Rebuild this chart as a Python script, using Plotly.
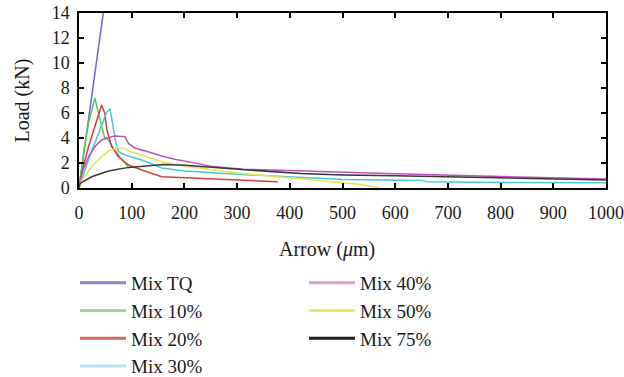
import plotly.graph_objects as go

names = ["Mix TQ", "Mix 10%", "Mix 20%", "Mix 30%", "Mix 40%", "Mix 50%", "Mix 75%"]

tq_x = [0, 24, 48]
tq_y = [0, 7.2, 14.6]

m10_x = [0, 5, 10, 18, 25, 30, 35, 42, 48, 56, 65, 75, 85, 93]
m10_y = [0, 1.8, 3.2, 5.2, 6.5, 7.2, 6.3, 5.0, 4.1, 3.8, 3.2, 2.6, 2.1, 1.7]

m20_x = [0, 10, 18, 30, 43, 49, 53, 62, 75, 94, 119, 157, 250, 377]
m20_y = [0, 2.0, 3.3, 5.0, 6.64, 5.97, 4.64, 3.3, 2.5, 1.84, 1.44, 0.9, 0.75, 0.5]

m30_x = [0, 15, 30, 45, 53, 59, 65, 68, 70, 72, 75, 90, 119, 157, 201, 300, 420, 500, 650, 660, 800, 1000]
m30_y = [0, 1.9, 3.6, 5.2, 6.1, 6.3, 4.6, 4.1, 3.6, 3.3, 2.9, 2.6, 2.24, 1.6, 1.36, 1.1, 0.82, 0.68, 0.6, 0.5, 0.45, 0.42]

m40_x = [0, 5, 18, 30, 43, 53, 68, 87, 94, 106, 131, 157, 182, 201, 250, 312, 420, 476, 600, 800, 1000]
m40_y = [0, 1.2, 2.5, 3.3, 3.84, 4.0, 4.16, 4.1, 3.57, 3.2, 2.9, 2.56, 2.3, 2.16, 1.75, 1.5, 1.35, 1.3, 1.15, 0.92, 0.72]

m50_x = [0, 5, 24, 43, 56, 75, 87, 97, 119, 157, 201, 236, 300, 420, 476, 530, 570]
m50_y = [0, 0.64, 1.7, 2.5, 2.96, 3.23, 3.17, 2.9, 2.64, 2.1, 1.76, 1.55, 1.2, 0.75, 0.5, 0.3, 0.05]

m75_x = [0, 2, 24, 56, 94, 131, 160, 201, 250, 321, 421, 500, 600, 700, 800, 900, 1000]
m75_y = [0, 0.37, 0.9, 1.36, 1.65, 1.78, 1.88, 1.82, 1.65, 1.44, 1.17, 1.05, 0.98, 0.9, 0.83, 0.74, 0.64]

xs = [tq_x, m10_x, m20_x, m30_x, m40_x, m50_x, m75_x]
ys = [tq_y, m10_y, m20_y, m30_y, m40_y, m50_y, m75_y]

line_colors = ["#6868d8", "#5cc850", "#d04040", "#48c8d0", "#c050c0", "#e8e050", "#383838"]
legend_colors = ["#8886c6", "#a2d892", "#d06868", "#b8e4e8", "#dca0d0", "#f0e860", "#202020"]
legend_ids = ["legend", "legend", "legend", "legend", "legend2", "legend2", "legend2"]

fig = go.Figure()
for x, y, c in zip(xs, ys, line_colors):
    fig.add_trace(go.Scatter(x=x, y=y, mode="lines", line=dict(color=c, width=1.5),
                             showlegend=False, hoverinfo="skip"))
for n, c, lg in zip(names, legend_colors, legend_ids):
    fig.add_trace(go.Scatter(x=[None], y=[None], mode="lines", name=n,
                             line=dict(color=c, width=3), legend=lg))

font = dict(family="Liberation Serif, Times New Roman, serif", color="#1a1a1a")

axis_common = dict(showline=True, linecolor="black", linewidth=1.5, mirror="ticks",
                   ticks="inside", ticklen=5, tickwidth=1.5, tickcolor="black",
                   showgrid=False, zeroline=False, automargin=False,
                   tickfont=dict(size=18, **font))

leg_common = dict(xref="container", yref="container", xanchor="left", yanchor="top",
                  font=dict(size=19, **font), bgcolor="rgba(0,0,0,0)",
                  tracegroupgap=0, itemwidth=46)

fig.update_layout(
    width=624, height=377,
    margin=dict(l=79, r=18, t=13, b=189, autoexpand=False),
    paper_bgcolor="white", plot_bgcolor="white",
    font=font,
    xaxis=dict(range=[0, 1000], tickvals=list(range(0, 1001, 100)),
               ticklabelstandoff=8, **axis_common),
    yaxis=dict(range=[0, 14], tickvals=list(range(0, 15, 2)),
               ticklabelstandoff=4, **axis_common),
    legend=dict(x=75 / 624, y=1 - 264 / 377, **leg_common),
    legend2=dict(x=304 / 624, y=1 - 264 / 377, **leg_common),
    annotations=[
        dict(text="Arrow (<i>μ</i>m)", xref="paper", yref="paper", x=0.47, y=-0.354,
             xanchor="center", yanchor="middle", showarrow=False,
             font=dict(size=20, **font)),
        dict(text="Load (kN)", xref="paper", yref="paper", x=(22 - 79) / 527, y=0.5,
             xanchor="center", yanchor="middle", showarrow=False, textangle=-90,
             font=dict(size=20, **font)),
    ],
)

fig.write_html("out.html")
